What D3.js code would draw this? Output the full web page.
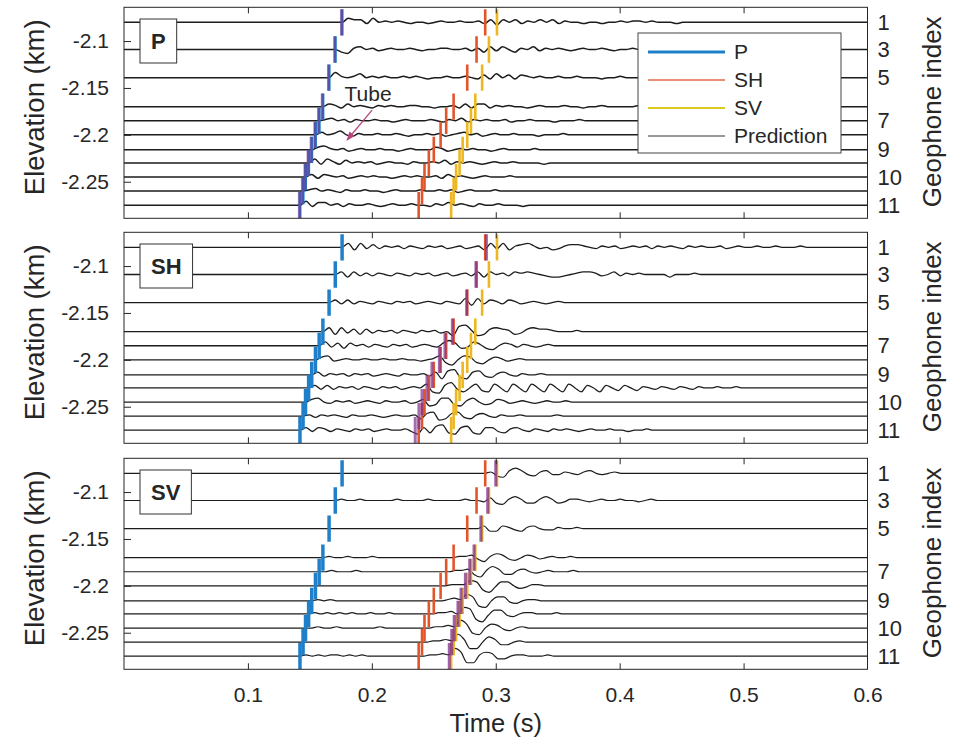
<!DOCTYPE html>
<html>
<head>
<meta charset="utf-8">
<script src="https://cdn.jsdelivr.net/npm/d3@7/dist/d3.min.js"></script>
<style>
  body { margin: 0; background: #fff; }
  svg text { font-family: "Liberation Sans", Arial, Helvetica, sans-serif; fill: #262626; }
</style>
</head>
<body>
<svg id="fig" width="958" height="741"></svg>
<script>
// Geophone elevations (km), top to bottom
const elevations = [-2.080, -2.109, -2.139, -2.170, -2.185, -2.200, -2.216, -2.230, -2.245, -2.260, -2.275];
// Geophone index shown on the right axis ("" = not labelled)
const geophoneIndex = ["1", "3", "5", "", "7", "", "9", "", "10", "", "11"];

const timeTicks = [0.1, 0.2, 0.3, 0.4, 0.5, 0.6];
const elevationTicks = [-2.1, -2.15, -2.2, -2.25];
const timeDomain = [0, 0.6];
const elevationDomain = [-2.289, -2.064];

// Picked arrival times (s) per geophone
const pickP  = [0.176, 0.1705, 0.1655, 0.1605, 0.1575, 0.1545, 0.1515, 0.149, 0.1465, 0.1445, 0.142];
const pickSH = [0.2915, 0.2845, 0.277, 0.266, 0.260, 0.2555, 0.250, 0.246, 0.2425, 0.2405, 0.2378];
const pickSV = [0.301, 0.2945, 0.289, 0.2835, 0.280, 0.277, 0.2733, 0.2708, 0.268, 0.266, 0.264];

// Travel-time tube centre (s) for the phase of each panel
const tubeP  = [0.1755, 0.170, 0.165, 0.160, 0.157, 0.154, 0.151, 0.1485, 0.146, 0.144, 0.1415];
const tubeSH = [0.2925, 0.284, 0.2765, 0.265, 0.259, 0.2545, 0.2485, 0.2445, 0.2405, 0.238, 0.235];
const tubeSV = [0.300, 0.2935, 0.288, 0.2825, 0.279, 0.2755, 0.272, 0.2695, 0.2665, 0.2645, 0.2625];

// Waveform samples, starting at each trace's P pick, one sample every sampleStep s.
// Amplitudes in units of ampUnit km of plotted elevation offset.
const sampleStep = 0.005;
const ampUnit = 0.0014;

const tracesP = [
  [0,3,2,2,-1,3,0,1,0,1, 0,-1,0,0,-1,0,1,0,0,1, 0,0,1,-1,2,-2,2,0,2,-1, 1,0,2,0,2,-1,1,0,0,-1, 0,0,-1,0,0,1,0,1,1,0, 1,0,0,0,-1,0],
  [0,-2,-3,1,2,0,1,-1,0,1, 0,0,1,0,-1,0,0,1,1,0, 0,1,-1,1,-2,2,-1,2,0,-2, 1,0,2,-1,1,0,1,0,-1,0, 1,0,0,1,0,-1,0,0,1,0, 0,0,1,0,0,0],
  [0,4,1,0,1,3,0,1,0,1, 0,0,1,0,1,0,-1,0,0,1, 0,0,1,0,-1,2,-1,3,0,2, -1,2,1,0,1,0,0,1,0,0, 1,0,0,0,-1,0,0,1,0,0, 0,0,0,0,0,0],
  [0,2,1,-1,2,0,1,0,-1,1, 0,1,0,0,1,1,0,0,-1,0, 0,1,-1,2,-1,2,2,-1,1,0, 1,0,0,-1,0,1,0,0,0,1, 0,0,-1,0,0,1,0,0,0,0, 0,1,0,0,0,0],
  [0,1,2,0,1,-1,1,0,0,1, 0,0,-1,0,1,0,0,0,1,0, -1,1,0,2,-1,1,0,1,0,0, 1,-1,0,0,1,0,0,0,-1,0, 0,0,1,0,0,0,0,0,0,0, 0,0,0,0,0,0],
  [0,2,0,1,3,0,-1,1,0,0, 1,0,0,1,0,-1,0,0,1,0, 1,-1,0,1,2,0,1,-1,0,1, 0,0,1,0,0,0,-1,0,0,0, 1,0,0,0,0,0,0,0,0,0, 0,0,0,0,0,0],
  [0,2,3,1,0,1,-1,0,1,0, 0,1,0,0,-1,0,1,0,0,0, 2,1,-1,0,1,0,1,0,0,-1, 0,1,0,0,0,0,1,0,0,0, 0,0,0,0,0,0,0,0,0,0, 0,0,0,0,0,0],
  [0,3,-1,3,1,-1,2,0,1,0, 1,-1,0,1,0,0,-1,1,0,0, 1,0,2,-1,1,0,1,0,-1,0, 1,0,0,1,0,0,0,0,-1,0, 0,0,0,0,0,0,0,0,0,0, 0,0,0,0,0,0],
  [0,2,-1,2,1,0,1,-1,0,1, 0,1,0,0,-1,0,1,0,1,0, 0,1,-1,2,0,1,0,-1,0,1, 0,0,0,1,0,0,0,0,0,0, 0,0,0,0,0,0,0,0,0,0, 0,0,0,0,0,0],
  [0,1,2,0,1,0,-1,1,0,0, 1,0,0,-1,0,1,0,0,0,1, 0,0,1,0,1,-1,0,1,0,0, 0,1,0,0,0,0,0,0,0,0, 0,0,0,0,0,0,0,0,0,0, 0,0,0,0,0,0],
  [0,3,-1,2,2,0,1,-1,1,0, 0,1,0,-1,0,1,0,0,1,0, 0,-1,1,0,2,0,1,0,-1,1, 0,0,1,0,0,0,-1,0,0,0, 0,0,0,0,0,0,0,0,0,0, 0,0,0,0,0,0]
];

const tracesSH = [
  [0,3,-2,3,-1,2,-1,1,0,1, -1,1,0,-1,1,0,1,-1,0,1, -1,0,1,-2,3,-1,3,-2,1,2, 3,1,-1,0,-2,-1,1,2,2,1, 0,-1,1,0,1,-1,0,1,0,1, -1,1,0,1,0,-1,1,0,1,0, 0,1,-1,0,1,0,0,1,0,0, 1,0,0,0,1,0,0,0,0,0],
  [0,2,-2,2,-1,1,-1,1,0,-1, 1,0,-1,1,0,1,-1,0,1,-1, 0,1,-1,2,-2,2,0,1,-1,2, 1,2,1,0,-1,-2,-2,-1,0,1, 2,2,1,-1,0,2,-1,1,0,1, 0,0,0,0,-2,0,0,0,1,0, 0,0,0,0,0,0],
  [0,2,-1,2,-1,1,0,-1,1,0, -1,1,0,1,-1,0,1,0,-1,1, 0,-1,3,-2,3,-1,2,1,-1,2, 1,-1,0,1,0,-1,0,1,0,0, 0,0,0,0,0,0],
  [0,3,-2,3,-1,2,-2,2,-1,1, 0,1,-1,1,0,-1,1,0,1,-1, 0,-3,4,5,1,-3,-2,2,3,2, 1,-2,-1,2,3,2,2,1,0,0, 0,1,0,0,0,0,0,0,0,0],
  [0,3,-1,2,-2,2,0,1,-1,1, 0,-1,1,0,1,-1,0,1,0,-1, 2,4,2,-2,-1,3,1,-2,-3,0, 2,1,-1,1,0,-1,0,1,0,0, 0,0,0,0,0,0,0,0],
  [0,2,3,-1,0,1,0,0,1,0, 0,1,0,0,1,0,0,-1,0,1, 3,-2,-4,0,3,2,-2,-3,0,2, 1,-1,0,1,0,0,0,0,0,0, 0,0,0,0,0,0,0,0,0,0],
  [0,2,-1,1,0,1,-1,1,0,1, -1,0,1,0,-1,1,0,0,1,-1, 2,-3,3,4,-2,-3,2,3,-1,-2, 1,2,0,-1,1,0,0,1,0,0, 0,0,0,0,0,0,0,0,0,0],
  [0,2,-1,2,-1,1,0,1,-1,1, 0,-1,1,0,1,-1,0,1,0, 3,-3,-4,2,4,-1,-3,0,3,-2,-3, 3,0,-3,3,0,-3,3,0,-3,3, 0,-3,3,0,-3,2,0,-3,2,0, -2,2,0,-2,1,0,-1,1,0,-1, 1,0,-1,1,0,0,1,0,0,1, 0,0,0,0,0,0,0,0,0,0, 0,0],
  [0,2,3,0,-1,1,0,1,-1,0, 1,0,-1,1,0,0,1,-1,0, 2,-3,-2,3,3,-2,-3,1,3,0,-2, -1,2,1,-1,0,1,0,-1,0,1, 0,0,1,0,0,0,0,0,0,0, 0,0,0,0,0,0],
  [0,1,-1,1,0,1,0,-1,1,0, 0,1,0,-1,0,1,0,0,1, -2,2,3,-3,-2,2,3,-1,-2,1,2, 0,-1,1,0,0,1,0,0,0,0, 0,1,0,0,0,0,0,0,0,0],
  [0,2,-1,2,1,-1,1,0,-1,1, 0,1,-1,0,1,0,0,1,-1, -3,2,-2,3,4,-2,-3,2,3,-2,-3, 2,2,-1,-2,1,2,0,-1,1,0, -1,1,0,1,0,-1,0,1,0,0, 1,0,0,-1,0,0,1,0,0,0, 0,0,0,0,0,0,0,0,0,0]
];

const tracesSV = [
  [0,0,0,0,0,0,0,0,0,0, 0,0,0,0,0,0,0,0,0,0, 0,0,0,0,1,-2,-3,2,4,2, -1,-2,1,2,-1,-1,1,0,-1,1, 2,0,-1,0,1,0,0,0,0,0],
  [0,1,0,0,1,0,0,0,0,0, 1,0,0,0,0,1,0,0,0,0, 0,1,0,0,-1,2,-2,-3,1,3, 1,-2,-2,1,3,1,-2,-1,1,1, 0,-1,0,1,0,0,1,0,0,-1, 0,1,0,0,0,0,0,0,0,0],
  [0,0,0,0,0,0,0,0,0,0, 0,0,0,0,0,0,0,0,0,0, 0,0,0,0,0,2,-2,-2,2,1, -1,-2,1,2,0,-1,-1,1,0,0, 1,0,0,0,0,0],
  [0,1,0,0,1,0,0,0,1,0, 0,0,0,0,0,0,0,0,0,0, 0,0,1,1,2,-1,-3,1,3,2, -1,-2,0,2,1,-1,0,1,0,0, 1,0,0,0,0,0,0,0],
  [0,0,1,0,0,0,1,0,0,0, 0,0,0,0,0,0,0,0,0,0, 0,0,1,1,2,-2,-4,1,4,2, -2,-2,1,2,0,-1,0,1,0,0, 0,1,0,0,0,0,0,0],
  [0,0,0,0,0,0,0,0,0,0, 0,0,0,0,0,0,0,0,0,0, 0,0,1,1,1,4,3,-3,-5,-1, 3,3,0,-2,-1,1,1,0,0,0, 0,0,0,0,0,0],
  [0,1,0,1,0,0,0,0,0,0, 0,0,0,0,0,0,0,0,0,0, 0,0,1,2,1,5,3,-4,-5,0, 3,3,-1,-2,0,1,1,0,0,0, 0,0,0,0,0,0],
  [0,1,0,1,0,1,0,1,0,0, 1,0,0,1,0,0,0,0,0,0, 0,1,1,2,0,5,4,-4,-6,-1, 3,3,-1,-2,0,1,1,0,0,0, 1,0,0,0,0,0],
  [0,0,1,0,0,1,0,0,0,0, 0,0,1,0,0,0,0,0,0,0, 0,1,1,2,1,6,3,-4,-5,0, 3,2,-1,-2,0,1,0,0,0,0, 0,0,0,0,0,0],
  [0,0,0,0,0,0,0,0,0,0, 0,0,0,0,0,0,0,0,0,0, 0,1,1,2,1,6,2,-5,-5,0, 4,2,-2,-2,0,1,0,0,0,0, 0,0,0,0,0,0],
  [0,1,0,1,0,1,1,0,1,0, 1,0,0,0,0,0,0,0,0,0, 0,1,1,2,1,6,3,-5,-5,1, 3,2,-2,-2,0,1,1,0,0,0, 1,0,0,0,0,0]
];

const panelNames = ["P", "SH", "SV"];
const panelTraces = [tracesP, tracesSH, tracesSV];
const panelTubes = [tubeP, tubeSH, tubeSV];

const legendLabels = ["P", "SH", "SV", "Prediction"];
const tubeNote = { label: "Tube", t: 0.178, elev: -2.164, from: [0.2002, -2.1736], to: [0.1800, -2.2055] };

// ---- layout ----
const svg = d3.select("#fig");
const plotLeft = 124, plotRight = 867.5, panelH = 211;
const panelTops = [7.3, 232.3, 458.3];
const tickFont = 21;
const colors = {
  P: "#1f80c9", SH: "#e2552b", SV: "#ecb721", tube: "#7e2f8e",
  trace: "#1c1c1c", axis: "#262626", note: "#b8457c"
};
const traceWidths = [1.5, 1.3, 1.2];
const tubeOpacity = [0.55, 0.7, 0.75];
const pickHalf = 0.014; // km, half height of a pick marker

const x = d3.scaleLinear().domain(timeDomain).range([plotLeft, plotRight]);

const defs = svg.append("defs");
defs.append("marker").attr("id", "arrowHead")
  .attr("viewBox", "0 0 10 10").attr("refX", 9).attr("refY", 5)
  .attr("markerWidth", 7).attr("markerHeight", 7).attr("orient", "auto")
  .append("path").attr("d", "M0,1 L10,5 L0,9 Z").attr("fill", colors.note);

panelNames.forEach((name, pi) => {
  const top = panelTops[pi];
  const y = d3.scaleLinear().domain(elevationDomain).range([top + panelH, top]);
  const g = svg.append("g");

  defs.append("clipPath").attr("id", "clip" + pi)
    .append("rect").attr("x", plotLeft).attr("y", top)
    .attr("width", plotRight - plotLeft).attr("height", panelH);

  g.append("rect").attr("x", plotLeft).attr("y", top)
    .attr("width", plotRight - plotLeft).attr("height", panelH).attr("fill", "#fff");

  const plot = g.append("g").attr("clip-path", `url(#clip${pi})`);

  // seismic traces
  const line = d3.line().x(d => x(d[0])).y(d => y(d[1])).curve(d3.curveMonotoneX);
  panelTraces[pi].forEach((amps, i) => {
    const e = elevations[i], t0 = pickP[i];
    const pts = [[timeDomain[0], e], [t0, e]];
    amps.forEach((a, k) => { if (k > 0) pts.push([t0 + k * sampleStep, e + a * ampUnit]); });
    pts.push([t0 + amps.length * sampleStep, e]);
    pts.push([timeDomain[1], e]);
    plot.append("path").attr("d", line(pts)).attr("fill", "none")
      .attr("stroke", colors.trace).attr("stroke-width", traceWidths[pi])
      .attr("stroke-linejoin", "round");
  });

  // picked arrivals
  const pickSets = [
    { t: pickP, c: colors.P, w: pi === 0 ? 3 : 3.5 },
    { t: pickSH, c: colors.SH, w: 2.6 },
    { t: pickSV, c: colors.SV, w: 2.6 }
  ];
  pickSets.forEach(ps => {
    plot.selectAll(null).data(ps.t).enter().append("line")
      .attr("x1", d => x(d)).attr("x2", d => x(d))
      .attr("y1", (d, i) => y(elevations[i] + pickHalf))
      .attr("y2", (d, i) => y(elevations[i] - pickHalf))
      .attr("stroke", ps.c).attr("stroke-width", ps.w);
  });

  // travel-time tube of this panel's phase
  plot.selectAll(null).data(panelTubes[pi]).enter().append("line")
    .attr("x1", d => x(d)).attr("x2", d => x(d))
    .attr("y1", (d, i) => y(elevations[i] + pickHalf))
    .attr("y2", (d, i) => y(elevations[i] - pickHalf))
    .attr("stroke", colors.tube).attr("stroke-width", 3).attr("stroke-opacity", tubeOpacity[pi]);

  // axes (ticks pointing inward)
  const axL = g.append("g").attr("transform", `translate(${plotLeft},0)`)
    .call(d3.axisLeft(y).tickValues(elevationTicks).tickSize(-7).tickPadding(15)
      .tickFormat(d => String(d)));
  const axR = g.append("g").attr("transform", `translate(${plotRight},0)`)
    .call(d3.axisRight(y).tickValues(elevations).tickSize(0).tickPadding(10)
      .tickFormat((d, i) => geophoneIndex[i]));
  const axT = g.append("g").attr("transform", `translate(0,${top})`)
    .call(d3.axisTop(x).tickValues(timeTicks.slice(0, -1)).tickSize(-6).tickFormat(""));
  const axB = g.append("g").attr("transform", `translate(0,${top + panelH})`)
    .call(d3.axisBottom(x).tickValues(timeTicks).tickSize(-6).tickPadding(18)
      .tickFormat(pi === 2 ? (d => String(d)) : ""));
  [axL, axR, axT, axB].forEach(ax => {
    ax.select(".domain").remove();
    ax.selectAll("line").attr("stroke", colors.axis);
    ax.selectAll("text").attr("font-size", tickFont).attr("fill", colors.axis)
      .attr("font-family", '"Liberation Sans", Arial, sans-serif');
  });
  axR.selectAll("text").attr("font-size", 22);
  axB.selectAll(".tick").filter(d => d === timeDomain[1]).select("line").remove();

  // frame
  g.append("rect").attr("x", plotLeft).attr("y", top)
    .attr("width", plotRight - plotLeft).attr("height", panelH)
    .attr("fill", "none").attr("stroke", colors.axis).attr("stroke-width", 1);

  // panel title box
  const tb = g.append("g");
  const tt = tb.append("text").text(name).attr("font-size", 22).attr("font-weight", "bold")
    .attr("fill", "#111").attr("x", 151).attr("y", top + 11.7 + 30);
  const bw = tt.node().getComputedTextLength();
  tb.insert("rect", "text").attr("x", 140).attr("y", top + 11.7)
    .attr("width", bw + 22).attr("height", 44)
    .attr("fill", "#fff").attr("stroke", "#333").attr("stroke-width", 1);

  // axis titles
  g.append("text").text("Elevation (km)")
    .attr("transform", `translate(44,${top + 100}) rotate(-90)`)
    .attr("text-anchor", "middle").attr("font-size", 27.5);
  g.append("text").text("Geophone index")
    .attr("transform", `translate(941,${top + 104.5}) rotate(-90)`)
    .attr("text-anchor", "middle").attr("font-size", 26);

  if (pi === 0) {
    // tube annotation
    g.append("text").text(tubeNote.label).attr("x", x(tubeNote.t)).attr("y", y(tubeNote.elev))
      .attr("font-size", 21).attr("fill", colors.note);
    g.append("line")
      .attr("x1", x(tubeNote.from[0])).attr("y1", y(tubeNote.from[1]))
      .attr("x2", x(tubeNote.to[0])).attr("y2", y(tubeNote.to[1]))
      .attr("stroke", colors.note).attr("stroke-width", 1.3)
      .attr("marker-end", "url(#arrowHead)");

    // legend
    const lg = g.append("g").attr("transform", "translate(638,33)");
    lg.append("rect").attr("width", 203).attr("height", 120)
      .attr("fill", "#fff").attr("stroke", "#444").attr("stroke-width", 1);
    const legendStyle = [
      { c: colors.P, w: 3 }, { c: "#e4694a", w: 1.6 }, { c: "#dccb1e", w: 2.2 }, { c: "#333", w: 1 }
    ];
    legendLabels.forEach((lab, i) => {
      const yy = 19 + i * 28;
      lg.append("line").attr("x1", 10).attr("x2", 87).attr("y1", yy).attr("y2", yy)
        .attr("stroke", legendStyle[i].c).attr("stroke-width", legendStyle[i].w);
      lg.append("text").text(lab).attr("x", 96).attr("y", yy).attr("dy", "0.35em")
        .attr("font-size", 21);
    });
  }
});

svg.append("text").text("Time (s)").attr("x", (plotLeft + plotRight) / 2).attr("y", 732)
  .attr("text-anchor", "middle").attr("font-size", 25.5);
</script>
</body>
</html>
